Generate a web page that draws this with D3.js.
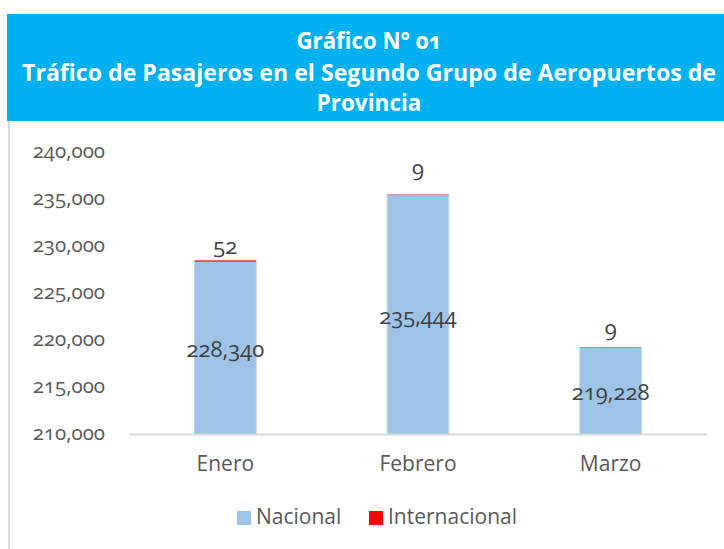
<!DOCTYPE html>
<html>
<head>
<meta charset="utf-8">
<script src="https://cdn.jsdelivr.net/npm/d3@7"></script>
<style>
  html, body { margin: 0; padding: 0; background: #fff; }
  svg { display: block; }
  text { font-family: "Open Sans", "Noto Sans", sans-serif; font-feature-settings: "onum" 1; }
</style>
</head>
<body>
<svg id="chart" width="724" height="549"></svg>
<script>
const titleLines = ["Gráfico N° 01", "Tráfico de Pasajeros en el Segundo Grupo de Aeropuertos de", "Provincia"];
const categories = ["Enero", "Febrero", "Marzo"];
const nacional = [228340, 235444, 219228];
const internacional = [52, 9, 9];
const seriesNames = ["Nacional", "Internacional"];
const seriesColors = ["#9DC3E6", "#FF0000"];
const yTicks = [210000, 215000, 220000, 225000, 230000, 235000, 240000];
const yDomain = [210000, 240000];

(function () {
const svg = d3.select("#chart");
const W = 724, H = 549;

// outer frame left border
svg.append("line").attr("x1", 9).attr("x2", 9).attr("y1", 120).attr("y2", H)
  .attr("stroke", "#D9D9D9").attr("stroke-width", 2);

// title band
svg.append("rect").attr("x", 7).attr("y", 14).attr("width", W - 7).attr("height", 107).attr("fill", "#00B0F0");
const tY = [43, 75, 105];
const tLen = [145, 694, 105];
titleLines.forEach((t, i) => {
  svg.append("text").attr("x", 369).attr("y", tY[i]).attr("text-anchor", "middle")
    .attr("dominant-baseline", "middle")
    .attr("fill", "#fff").attr("font-weight", "bold").attr("font-size", 23)
    .attr("textLength", tLen[i])
    .attr("lengthAdjust", "spacingAndGlyphs")
    .text(t);
});

const pLeft = 129, pRight = 707, pTop = 152, pBottom = 434.5;
const x = d3.scaleBand().domain(categories).range([pLeft, pRight]).paddingInner(0.68).paddingOuter(0.34);
const y = d3.scaleLinear().domain(yDomain).range([pBottom, pTop]);

// y axis labels
const yAxis = d3.axisLeft(y).tickValues(yTicks).tickFormat(d3.format(",")).tickSize(0).tickPadding(0);
const gy = svg.append("g").attr("transform", "translate(105,0)").call(yAxis);
gy.select(".domain").remove();
gy.selectAll("text").attr("font-size", 20.5).attr("fill", "#595959").attr("font-family", null)
  .attr("dy", null).attr("dominant-baseline", "middle");

// bars
const data = categories.map((c, i) => ({ c, n: nacional[i], it: internacional[i], i }));
const g = svg.append("g");
g.selectAll("rect.nac").data(data).join("rect").attr("class", "nac")
  .attr("x", d => x(d.c)).attr("width", x.bandwidth())
  .attr("y", d => y(d.n)).attr("height", d => y(yDomain[0]) - y(d.n))
  .attr("fill", seriesColors[0]).attr("stroke", "#BDD7EE").attr("stroke-width", 1);
g.selectAll("rect.int").data(data).join("rect").attr("class", "int")
  .attr("x", d => x(d.c)).attr("width", x.bandwidth())
  .attr("y", d => y(d.n + d.it) - (d.it > 20 ? 1 : 0.5))
  .attr("height", d => Math.max(d.it > 20 ? 1.5 : 1, y(d.n) - y(d.n + d.it)))
  .attr("fill", seriesColors[1]).attr("opacity", d => d.it > 20 ? 0.85 : 0.45);

// x axis baseline
svg.append("line").attr("x1", pLeft).attr("x2", pRight).attr("y1", y(yDomain[0])).attr("y2", y(yDomain[0]))
  .attr("stroke", "#D9D9D9").attr("stroke-width", 2);

// data labels
const fmt = d3.format(",");
g.selectAll("text.nl").data(data).join("text").attr("class", "nl")
  .attr("x", d => x(d.c) + x.bandwidth() / 2).attr("y", d => y((yDomain[0] + d.n) / 2) + 3)
  .attr("text-anchor", "middle").attr("dominant-baseline", "middle")
  .attr("font-size", 22).attr("fill", "#404040").text(d => fmt(d.n));
const intLabelGap = [13, 25, 17];
g.selectAll("text.il").data(data).join("text").attr("class", "il")
  .attr("x", d => x(d.c) + x.bandwidth() / 2).attr("y", d => y(d.n + d.it) - intLabelGap[d.i])
  .attr("text-anchor", "middle").attr("dominant-baseline", "middle")
  .attr("font-size", 22).attr("fill", "#404040").text(d => fmt(d.it));

// x axis labels
const xAxis = d3.axisBottom(x).tickSize(0).tickPadding(0);
const gx = svg.append("g").attr("transform", `translate(0,${pBottom + 31})`).call(xAxis);
gx.select(".domain").remove();
gx.selectAll("text").attr("font-size", 21).attr("fill", "#595959").attr("font-family", null)
  .attr("dy", null).attr("dominant-baseline", "middle");

// legend
const legX = [237, 369];
seriesNames.forEach((s, i) => {
  svg.append("rect").attr("x", legX[i]).attr("y", 511).attr("width", 14).attr("height", 14).attr("fill", seriesColors[i]);
  svg.append("text").attr("x", legX[i] + 19).attr("y", 518).attr("dominant-baseline", "middle")
    .attr("font-size", 21).attr("fill", "#595959").text(s);
});
})();
</script>
</body>
</html>
